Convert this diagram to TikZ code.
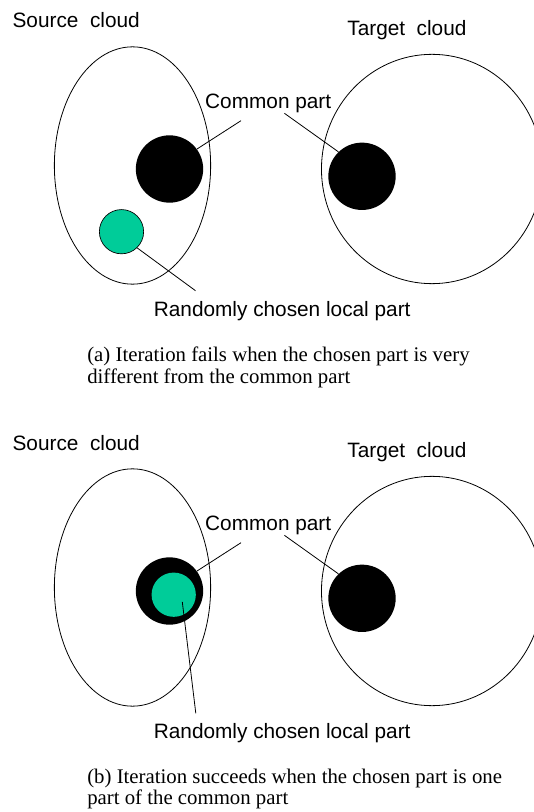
\documentclass[tikz,border=0pt]{standalone}
\usepackage{fontspec}
\setmainfont{Liberation Serif}
\setsansfont{Liberation Sans}
\usetikzlibrary{positioning, calc}
\definecolor{chosen}{RGB}{0,204,153}

\tikzset{
  cloudtxt/.style={font=\sffamily\fontsize{15.6}{18.7}\selectfont, inner sep=0pt},
  captxt/.style={font=\fontsize{15.6}{16.1}\selectfont, align=left, inner sep=0pt},
  commonpart/.style={circle, fill=black, minimum size=50.5pt, inner sep=0pt},
  localpart/.style={circle, fill=chosen, draw=black, line width=0.5pt, minimum size=33.2pt, inner sep=0pt},
}

\begin{document}
\begin{tikzpicture}[x=0.75pt, y=-0.75pt, line width=0.6pt]
    \useasboundingbox (0,0) rectangle (534,812);

    % (a) parte elegida lejos de la parte comun
    \draw (132.5,165.5) ellipse [x radius=58.6pt, y radius=89pt];
    \draw (432,169) ellipse [x radius=82.9pt, y radius=86pt];
    \node[cloudtxt, anchor=base] (srcA) at (76.2,28) {Source\ \ cloud};
    \node[cloudtxt, anchor=base] (tgtA) at (406.9,35.5) {Target\ \ cloud};
    \node[commonpart] (srccmA) at (169.5,169) {};
    \node[commonpart] (tgtcmA) at (362,176.3) {};
    \node[localpart] (localA) at (121.5,231.7) {};
    \node[cloudtxt, anchor=base] (cmtxtA) at (268.2,108.5) {Common part};
    \node[cloudtxt, anchor=base] (rndtxtA) at (282.2,316) {Randomly chosen local part};
    \coordinate (cmsA) at (241,120.7);
    \coordinate (cmtA) at (284.4,113.3);
    \coordinate (rndA) at (195.5,290.7);
    \draw (cmsA) -- (srccmA.36);
    \draw (cmtA) -- (tgtcmA.134);
    \draw (localA.-46) -- (rndA);
    \node[captxt, anchor=north west] (capA) at (86.9,346.5)
      {(a) Iteration fails when the chosen part is very\\different from the common part};

    % (b) parte elegida dentro de la parte comun
    \begin{scope}[shift={(0,422)}]
      \draw (132.5,165.5) ellipse [x radius=58.6pt, y radius=89pt];
      \draw (432,169) ellipse [x radius=82.9pt, y radius=86pt];
      \node[cloudtxt, anchor=base] (srcB) at (76.2,28) {Source\ \ cloud};
      \node[cloudtxt, anchor=base] (tgtB) at (406.9,35.5) {Target\ \ cloud};
      \node[commonpart] (srccmB) at (169.5,169) {};
      \node[commonpart] (tgtcmB) at (362,176.3) {};
      \node[localpart, draw=none] (localB) at (173.7,172.7) {};
      \node[cloudtxt, anchor=base] (cmtxtB) at (268.2,108.5) {Common part};
      \node[cloudtxt, anchor=base] (rndtxtB) at (282.2,316) {Randomly chosen local part};
      \coordinate (cmsB) at (241,120.7);
      \coordinate (cmtB) at (284.4,113.3);
      \coordinate (rndB) at (195.8,291.3);
      \draw (cmsB) -- (srccmB.36);
      \draw (cmtB) -- (tgtcmB.134);
      \draw ($(localB.center)!0.5!(localB.-40)$) -- (rndB);
      \node[captxt, anchor=north west] (capB) at (86.9,346.5)
        {(b) Iteration succeeds when the chosen part is one\\part of the common part};
    \end{scope}
\end{tikzpicture}
\end{document}
